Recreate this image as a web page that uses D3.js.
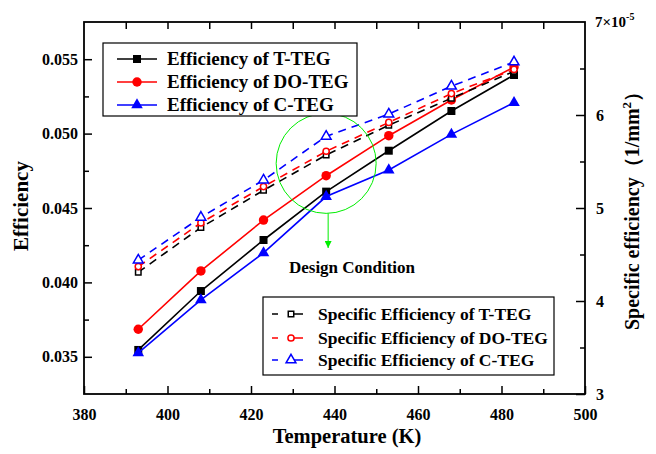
<!DOCTYPE html>
<html>
<head>
<meta charset="utf-8">
<script src="https://cdn.jsdelivr.net/npm/d3@7"></script>
<style>
  body { margin: 0; background: #fff; }
  svg { display: block; }
  text { font-family: "Liberation Serif", "Times New Roman", serif; font-weight: bold; fill: #000; }
</style>
</head>
<body>
<svg id="chart" width="656" height="454"></svg>
<script>
// data
const temperature = [393, 408, 423, 438, 453, 468, 483];

const effT = [0.03546, 0.03942, 0.04285, 0.04610, 0.04885, 0.05152, 0.05394];
const effDO = [0.03685, 0.04077, 0.04419, 0.04717, 0.04986, 0.05226, 0.05448];
const effC = [0.03526, 0.03882, 0.04198, 0.04577, 0.04755, 0.04995, 0.05208];

// specific efficiency, in units of 1e-5 1/mm^2
const specT = [4.31, 4.79, 5.19, 5.57, 5.89, 6.18, 6.47];
const specDO = [4.37, 4.84, 5.23, 5.61, 5.92, 6.23, 6.49];
const specC = [4.44, 4.90, 5.30, 5.77, 6.01, 6.31, 6.57];

const xTicks = [380, 400, 420, 440, 460, 480, 500];
const yTicks = [0.035, 0.040, 0.045, 0.050, 0.055];
const y2Ticks = [3, 4, 5, 6];

const effLabels = ['Efficiency of T-TEG', 'Efficiency of DO-TEG', 'Efficiency of C-TEG'];
const specLabels = ['Specific Efficiency of T-TEG', 'Specific Efficiency of DO-TEG', 'Specific Efficiency of C-TEG'];

const w = 656;
const h = 454;
const margin = { top: 22, right: 71, bottom: 60, left: 84 };

const svg = d3.select('#chart').style('font-family', '"Liberation Serif", serif');

const x = d3.scaleLinear().domain([380, 500]).range([margin.left, w - margin.right]);
const y = d3.scaleLinear().domain([0.0325, 0.0575]).range([h - margin.bottom, margin.top]);
const y2 = d3.scaleLinear().domain([3, 7]).range([h - margin.bottom, margin.top]);

const colors = ['#000000', '#ff0000', '#0000ff'];
const shapes = [d3.symbolSquare, d3.symbolCircle, d3.symbolTriangle];
const fullSize = [64, 70, 58];
const hollowSize = [30, 30, 42];

const styleAxis = (g) => {
  g.attr('font-family', null);
  g.select('.domain').remove();
  g.selectAll('line').attr('stroke', '#000').attr('stroke-width', 1.5);
  g.selectAll('text').style('font-size', '16px');
};

// bottom axis
svg.append('g')
  .attr('transform', `translate(0,${h - margin.bottom})`)
  .call(d3.axisBottom(x).tickValues(xTicks).tickSizeInner(-8).tickSizeOuter(0).tickPadding(15))
  .call(styleAxis);
svg.append('g')
  .attr('transform', `translate(0,${h - margin.bottom})`)
  .call(d3.axisBottom(x).tickValues(d3.range(390, 500, 20)).tickSize(-5).tickFormat(''))
  .call(styleAxis);

// top axis, ticks only
svg.append('g')
  .attr('transform', `translate(0,${margin.top})`)
  .call(d3.axisTop(x).tickValues(d3.range(390, 500, 10)).tickSize(-7).tickFormat(''))
  .call(styleAxis);

// left axis
svg.append('g')
  .attr('transform', `translate(${margin.left},0)`)
  .call(d3.axisLeft(y).tickValues(yTicks).tickSizeInner(-8).tickSizeOuter(0).tickPadding(6).tickFormat(d3.format('.3f')))
  .call(styleAxis);
svg.append('g')
  .attr('transform', `translate(${margin.left},0)`)
  .call(d3.axisLeft(y).tickValues([0.0375, 0.0425, 0.0475, 0.0525]).tickSize(-5).tickFormat(''))
  .call(styleAxis);

// right axis
svg.append('g')
  .attr('transform', `translate(${w - margin.right},0)`)
  .call(d3.axisRight(y2).tickValues(y2Ticks).tickSizeInner(-9).tickSizeOuter(0).tickPadding(11).tickFormat(d3.format('d')))
  .call(styleAxis);
svg.append('g')
  .attr('transform', `translate(${w - margin.right},0)`)
  .call(d3.axisRight(y2).tickValues([3.5, 4.5, 5.5, 6.5]).tickSize(-5).tickFormat(''))
  .call(styleAxis);

const topLabel = svg.append('text')
  .attr('x', w - margin.right + 10)
  .attr('y', y2(7) + 5)
  .style('font-size', '15px');
topLabel.append('tspan').text('7×10');
topLabel.append('tspan').attr('dy', -7).style('font-size', '10px').text('-5');

// frame
svg.append('rect')
  .attr('x', margin.left)
  .attr('y', margin.top)
  .attr('width', w - margin.left - margin.right)
  .attr('height', h - margin.top - margin.bottom)
  .attr('fill', 'none')
  .attr('stroke', '#000')
  .attr('stroke-width', 1.8);

// axis titles
svg.append('text')
  .attr('x', 347)
  .attr('y', 443)
  .attr('text-anchor', 'middle')
  .style('font-size', '20.5px')
  .text('Temperature (K)');

svg.append('text')
  .attr('transform', `translate(28,206) rotate(-90)`)
  .attr('text-anchor', 'middle')
  .style('font-size', '21px')
  .text('Efficiency');

const rightTitle = svg.append('text')
  .attr('transform', `translate(639,206) rotate(-90)`)
  .attr('text-anchor', 'middle')
  .style('font-size', '20px');
rightTitle.append('tspan').text('Specific efficiency（1/mm');
rightTitle.append('tspan').attr('dy', -8).style('font-size', '13px').text('2');
rightTitle.append('tspan').attr('dy', 8).text('）');

// efficiency series (left axis)
const effSeries = [effT, effDO, effC];
const lineL = d3.line().x((d, i) => x(temperature[i])).y((d) => y(d));

effSeries.forEach((vals, k) => {
  svg.append('path')
    .datum(vals)
    .attr('d', lineL)
    .attr('fill', 'none')
    .attr('stroke', colors[k])
    .attr('stroke-width', 1.6);
  svg.append('g')
    .selectAll('path')
    .data(vals)
    .enter()
    .append('path')
      .attr('transform', (d, i) => `translate(${x(temperature[i])},${y(d)})`)
      .attr('d', d3.symbol().type(shapes[k]).size(fullSize[k]))
      .attr('fill', colors[k]);
});

// specific efficiency series (right axis)
const specSeries = [specT, specDO, specC];
const lineR = d3.line().x((d, i) => x(temperature[i])).y((d) => y2(d));

specSeries.forEach((vals, k) => {
  svg.append('path')
    .datum(vals)
    .attr('d', lineR)
    .attr('fill', 'none')
    .attr('stroke', colors[k])
    .attr('stroke-width', 1.6)
    .attr('stroke-dasharray', '8,6');
  svg.append('g')
    .selectAll('path')
    .data(vals)
    .enter()
    .append('path')
      .attr('transform', (d, i) => `translate(${x(temperature[i])},${y2(d)})`)
      .attr('d', d3.symbol().type(shapes[k]).size(hollowSize[k]))
      .attr('fill', '#fff')
      .attr('stroke', colors[k])
      .attr('stroke-width', 1.5);
});

// design condition annotation
const cx = x(438);
const cy = y(0.0480);
svg.append('defs').append('marker')
  .attr('id', 'arrow')
  .attr('viewBox', '0 0 10 10')
  .attr('refX', 10)
  .attr('refY', 5)
  .attr('markerWidth', 7)
  .attr('markerHeight', 7)
  .attr('orient', 'auto')
  .append('path')
    .attr('d', 'M0,0 L10,5 L0,10 Z')
    .attr('fill', '#00ee00');

svg.append('circle')
  .attr('cx', cx)
  .attr('cy', cy)
  .attr('r', 50)
  .attr('fill', 'none')
  .attr('stroke', '#00ee00')
  .attr('stroke-width', 1);

svg.append('line')
  .attr('x1', cx + 2)
  .attr('y1', cy + 50)
  .attr('x2', cx + 2)
  .attr('y2', 248)
  .attr('stroke', '#00ee00')
  .attr('stroke-width', 1)
  .attr('marker-end', 'url(#arrow)');

svg.append('text')
  .attr('x', 352)
  .attr('y', 273)
  .attr('text-anchor', 'middle')
  .style('font-size', '17px')
  .text('Design Condition');

// legend for efficiency
const leg1 = svg.append('g');
leg1.append('rect')
  .attr('x', 103).attr('y', 43)
  .attr('width', 254).attr('height', 73)
  .attr('fill', '#fff')
  .attr('stroke', '#000')
  .attr('stroke-width', 1.2);
[59, 82, 105].forEach((ry, k) => {
  leg1.append('line')
    .attr('x1', 117).attr('x2', 157)
    .attr('y1', ry).attr('y2', ry)
    .attr('stroke', colors[k]).attr('stroke-width', 1.6);
  leg1.append('path')
    .attr('transform', `translate(137,${ry})`)
    .attr('d', d3.symbol().type(shapes[k]).size(fullSize[k]))
    .attr('fill', colors[k]);
  leg1.append('text')
    .attr('x', 167).attr('y', ry + 6)
    .style('font-size', '19px')
    .text(effLabels[k]);
});

// legend for specific efficiency
const leg2 = svg.append('g');
leg2.append('rect')
  .attr('x', 263).attr('y', 297)
  .attr('width', 291).attr('height', 78)
  .attr('fill', '#fff')
  .attr('stroke', '#000')
  .attr('stroke-width', 1.2);
[314, 338, 360].forEach((ry, k) => {
  leg2.append('line')
    .attr('x1', 272).attr('x2', 303)
    .attr('y1', ry).attr('y2', ry)
    .attr('stroke', colors[k]).attr('stroke-width', 1.6)
    .attr('stroke-dasharray', '6,12,13');
  leg2.append('path')
    .attr('transform', `translate(291,${ry})`)
    .attr('d', d3.symbol().type(shapes[k]).size(hollowSize[k]))
    .attr('fill', '#fff')
    .attr('stroke', colors[k])
    .attr('stroke-width', 1.5);
  leg2.append('text')
    .attr('x', 318).attr('y', ry + 6)
    .style('font-size', '17.5px')
    .text(specLabels[k]);
});
</script>
</body>
</html>
